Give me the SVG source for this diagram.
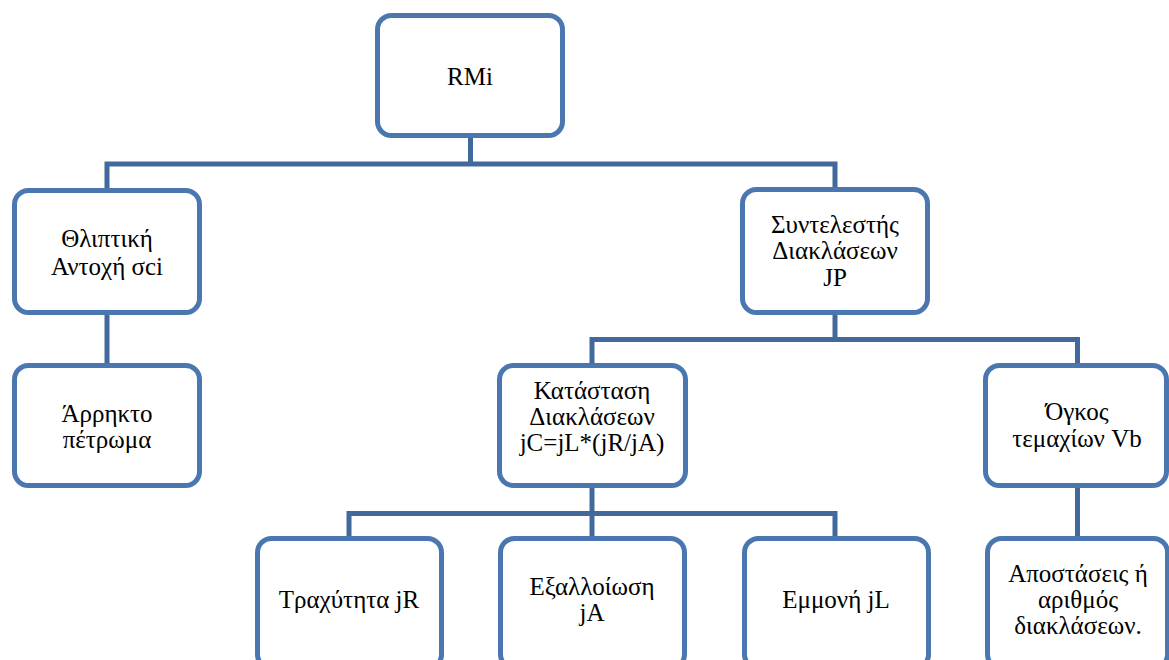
<svg xmlns="http://www.w3.org/2000/svg" width="1169" height="660" viewBox="0 0 1169 660">
<style>
.box{fill:#fff;stroke:#4A77B0;stroke-width:5}
.ln{fill:none;stroke:#41699C;stroke-width:5;stroke-linejoin:miter}
.t{font-family:"Liberation Serif","Times New Roman","DejaVu Serif",serif;font-size:25px;fill:#000;text-anchor:middle}
</style>
<rect width="1169" height="660" fill="#fff"/>
<g id="connectors">
<path class="ln" d="M470.5,136 V164"/>
<path class="ln" d="M107,190 V164 H835 V190"/>
<path class="ln" d="M107,313 V365"/>
<path class="ln" d="M835,313 V339.5"/>
<path class="ln" d="M592,365 V339.5 H1077.5 V365"/>
<path class="ln" d="M592,486 V513.5"/>
<path class="ln" d="M349,538 V513.5 H835 V538"/>
<path class="ln" d="M592,513.5 V538"/>
<path class="ln" d="M1077.5,486 V538"/>
</g>
<g id="n-rmi"><rect class="box" x="377.5" y="15.5" width="185" height="120" rx="14"/><text class="t" x="470" y="85">RMi</text></g>
<g id="n-thlipt"><rect class="box" x="14.5" y="190.5" width="185" height="122" rx="14"/><text class="t" x="107" y="247">Θλιπτική</text><text class="t" x="107" y="275">Αντοχή σci</text></g>
<g id="n-arrikto"><rect class="box" x="14.5" y="365.5" width="185" height="120" rx="14"/><text class="t" x="107" y="422">Άρρηκτο</text><text class="t" x="107" y="448">πέτρωμα</text></g>
<g id="n-jp"><rect class="box" x="742.5" y="189.5" width="185" height="123" rx="14"/><text class="t" x="835" y="233">Συντελεστής</text><text class="t" x="835" y="259">Διακλάσεων</text><text class="t" x="835" y="286">JP</text></g>
<g id="n-jc"><rect class="box" x="499.5" y="365.5" width="186" height="120" rx="14"/><text class="t" x="592" y="399">Κατάσταση</text><text class="t" x="592" y="425">Διακλάσεων</text><text class="t" x="592" y="451">jC=jL*(jR/jA)</text></g>
<g id="n-vb"><rect class="box" x="985.5" y="365.5" width="181" height="120" rx="14"/><text class="t" x="1077" y="420">Όγκος</text><text class="t" x="1077" y="447">τεμαχίων Vb</text></g>
<g id="n-jr"><rect class="box" x="257.5" y="538.5" width="184" height="130" rx="14"/><text class="t" x="349" y="608">Τραχύτητα jR</text></g>
<g id="n-ja"><rect class="box" x="500.5" y="538.5" width="184" height="130" rx="14"/><text class="t" x="592" y="595">Εξαλλοίωση</text><text class="t" x="592" y="621">jA</text></g>
<g id="n-jl"><rect class="box" x="744.5" y="538.5" width="184" height="130" rx="14"/><text class="t" x="836" y="608">Εμμονή jL</text></g>
<g id="n-dist"><rect class="box" x="987.5" y="538.5" width="180" height="130" rx="14"/><text class="t" x="1078" y="582">Αποστάσεις ή</text><text class="t" x="1078" y="608">αριθμός</text><text class="t" x="1078" y="634">διακλάσεων.</text></g>
</svg>
